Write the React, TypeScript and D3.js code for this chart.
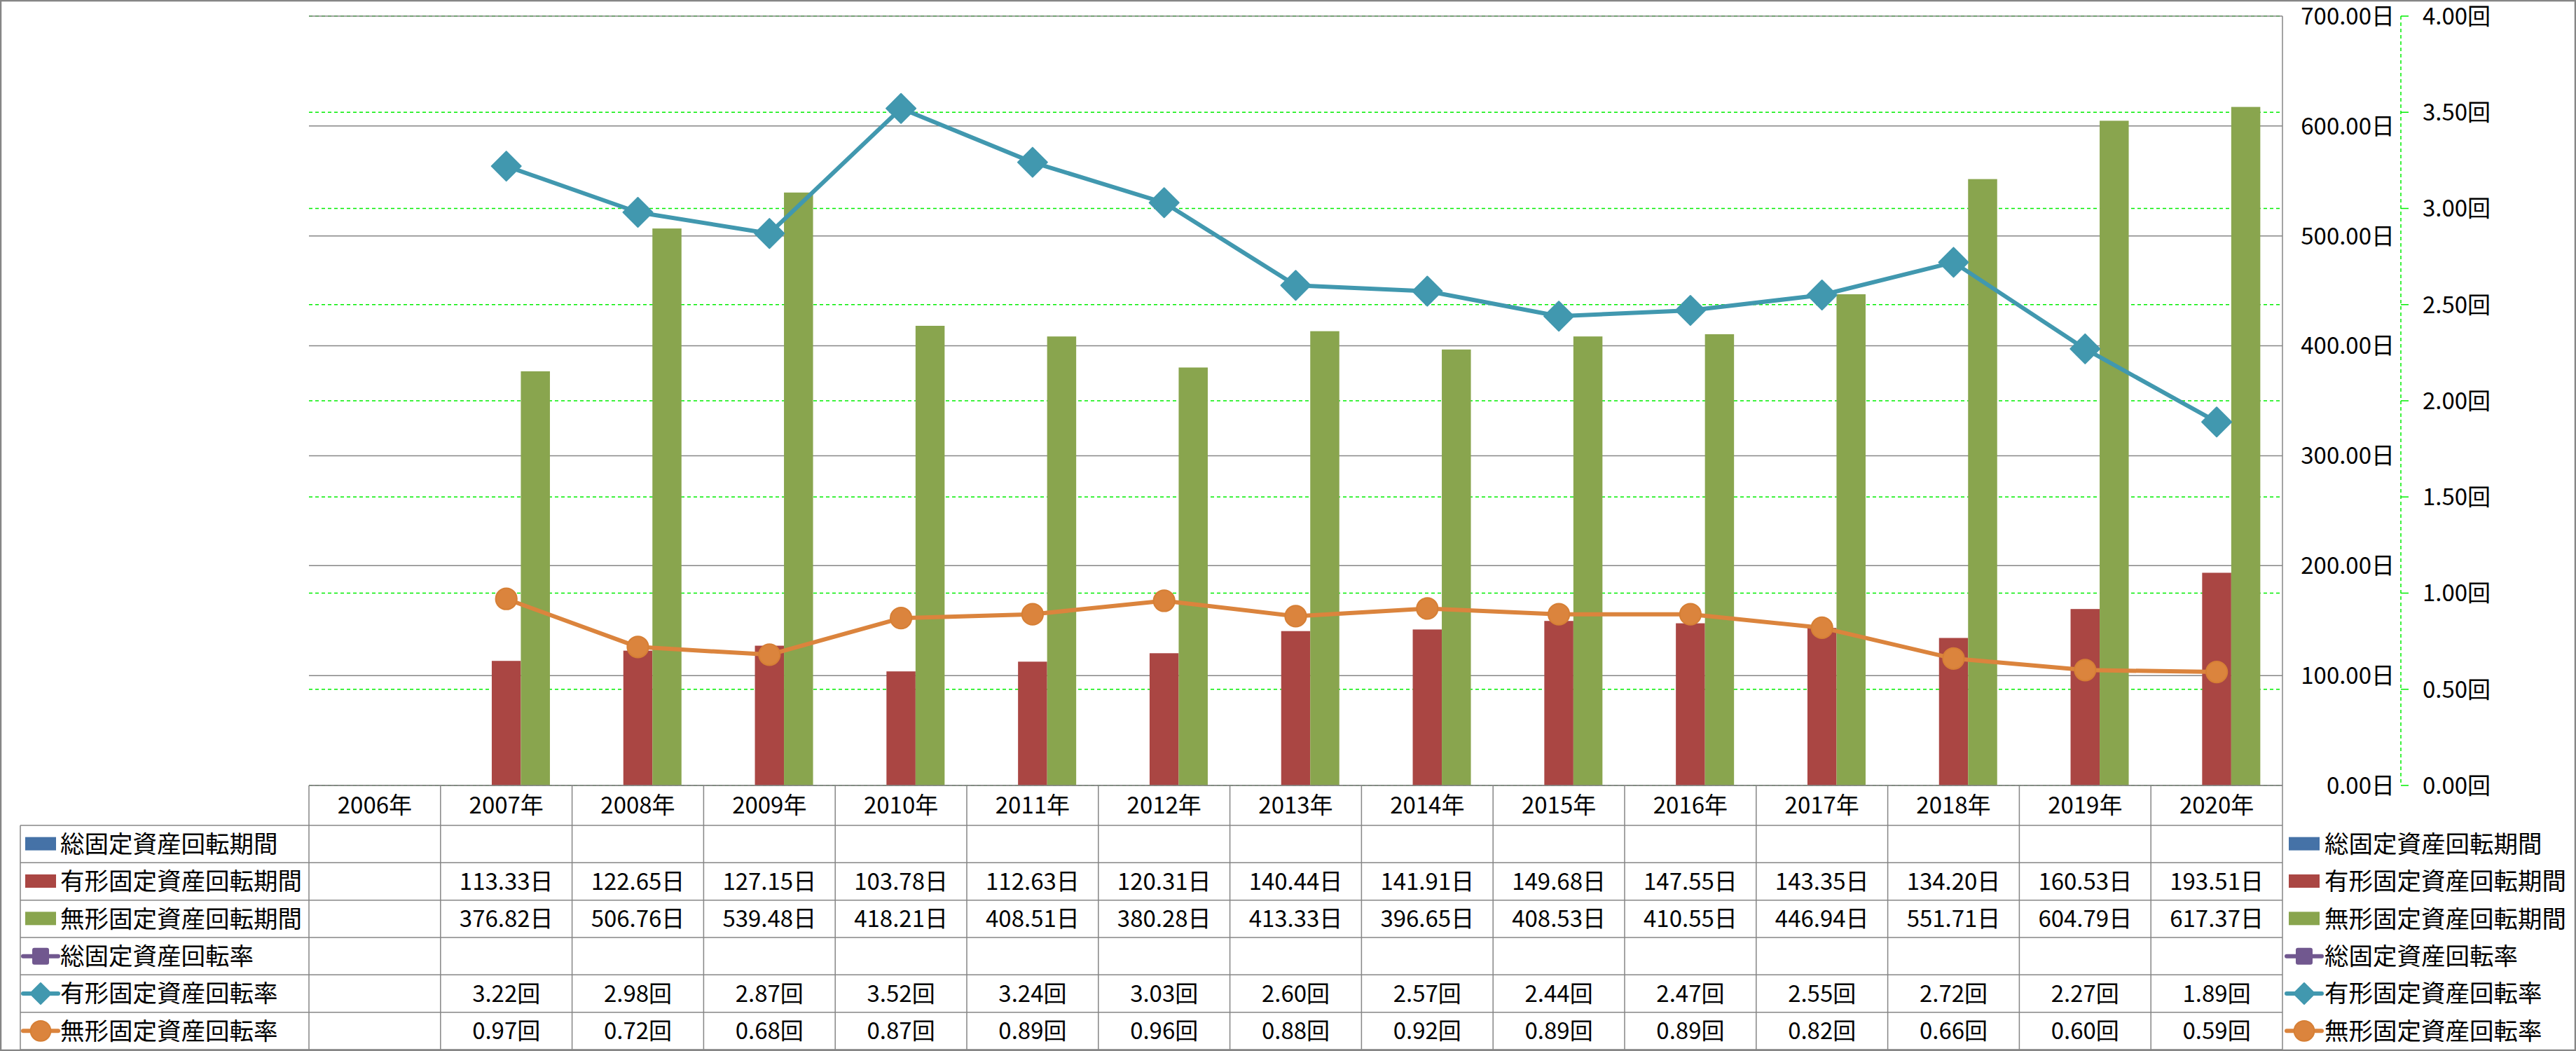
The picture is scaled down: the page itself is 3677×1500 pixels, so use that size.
import React from 'react';
import * as d3 from 'd3';

const years = ['2006年', '2007年', '2008年', '2009年', '2010年', '2011年', '2012年', '2013年', '2014年', '2015年', '2016年', '2017年', '2018年', '2019年', '2020年'];
const seriesNames = ['総固定資産回転期間', '有形固定資産回転期間', '無形固定資産回転期間', '総固定資産回転率', '有形固定資産回転率', '無形固定資産回転率'];
const totalPeriod: (number | null)[] = [null, null, null, null, null, null, null, null, null, null, null, null, null, null, null];
const tangiblePeriod: (number | null)[] = [null, 113.33, 122.65, 127.15, 103.78, 112.63, 120.31, 140.44, 141.91, 149.68, 147.55, 143.35, 134.20, 160.53, 193.51];
const intangiblePeriod: (number | null)[] = [null, 376.82, 506.76, 539.48, 418.21, 408.51, 380.28, 413.33, 396.65, 408.53, 410.55, 446.94, 551.71, 604.79, 617.37];
const totalRate: (number | null)[] = [null, null, null, null, null, null, null, null, null, null, null, null, null, null, null];
const tangibleRate: (number | null)[] = [null, 3.22, 2.98, 2.87, 3.52, 3.24, 3.03, 2.60, 2.57, 2.44, 2.47, 2.55, 2.72, 2.27, 1.89];
const intangibleRate: (number | null)[] = [null, 0.97, 0.72, 0.68, 0.87, 0.89, 0.96, 0.88, 0.92, 0.89, 0.89, 0.82, 0.66, 0.60, 0.59];
const dayTicks = [0, 100, 200, 300, 400, 500, 600, 700];
const rateTicks = [0, 0.5, 1, 1.5, 2, 2.5, 3, 3.5, 4];

const colors = ['#4572A7', '#AA4643', '#89A54E', '#71588F', '#4198AF', '#DB843D'];
const markers = ['rect', 'rect', 'rect', 'square', 'diamond', 'circle'];

const W = 3677, H = 1500;
const plotL = 441, plotR = 3258, plotT = 23, plotB = 1121;
const headerB = 1178, rowH = 53.33, tableL = 29;
const FONT = "'Noto Sans CJK JP', 'Noto Sans', sans-serif";
const FS = 33;
const GRID = '#868686';

function Marker({ kind, x, y, color, s }: { kind: string; x: number; y: number; color: string; s: number }) {
  if (kind === 'diamond') {
    const p = `M${x},${y - s} L${x + s},${y} L${x},${y + s} L${x - s},${y} Z`;
    return <path d={p} fill={color} stroke={color} strokeWidth={2} strokeLinejoin="round" />;
  }
  if (kind === 'circle') {
    return <circle cx={x} cy={y} r={s * 0.72} fill={color} stroke="#D67F35" strokeWidth={2} />;
  }
  return <rect x={x - s * 0.6} y={y - s * 0.6} width={s * 1.2} height={s * 1.2} rx={3} fill={color} />;
}

export default function App() {
  const x = d3.scaleBand<string>().domain(years).range([plotL, plotR]).paddingInner(0).paddingOuter(0);
  const bw = x.bandwidth();
  const gw = bw * 0.663;
  const xSub = d3.scaleBand<number>().domain([0, 1, 2]).range([(bw - gw) / 2, (bw + gw) / 2]);
  const yDays = d3.scaleLinear().domain([0, 700]).range([plotB, plotT]);
  const yRate = d3.scaleLinear().domain([0, 4]).range([plotB, plotT]);

  const barSeries = [totalPeriod, tangiblePeriod, intangiblePeriod];
  const lineSeries = [totalRate, tangibleRate, intangibleRate];

  const lineGen = d3.line<[number, number | null]>()
    .defined(d => d[1] != null)
    .x(d => d[0])
    .y(d => yRate(d[1] as number));

  const cellTexts: string[][] = [
    totalPeriod.map(v => (v == null ? '' : v.toFixed(2) + '日')),
    tangiblePeriod.map(v => (v == null ? '' : v.toFixed(2) + '日')),
    intangiblePeriod.map(v => (v == null ? '' : v.toFixed(2) + '日')),
    totalRate.map(v => (v == null ? '' : v.toFixed(2) + '回')),
    tangibleRate.map(v => (v == null ? '' : v.toFixed(2) + '回')),
    intangibleRate.map(v => (v == null ? '' : v.toFixed(2) + '回')),
  ];

  const rowTop = (i: number) => headerB + i * rowH;
  const rowMid = (i: number) => rowTop(i) + rowH / 2;

  const legendIcon = (i: number, cx0: number) => {
    const cy = rowMid(i);
    if (i < 3) {
      return <rect x={cx0} y={cy - 10} width={44} height={19} fill={colors[i]} />;
    }
    const mid = cx0 + 22;
    return (
      <g>
        <line x1={cx0 - 3} x2={cx0 + 47} y1={cy} y2={cy} stroke={colors[i]} strokeWidth={6} strokeLinecap="round" />
        <Marker kind={markers[i]} x={mid} y={cy} color={colors[i]} s={i === 4 ? 15 : 20} />
      </g>
    );
  };

  return (
    <svg width={W} height={H} style={{ position: 'absolute', left: 0, top: 0, background: '#fff' }} fontFamily={FONT}>
      <rect x={0} y={0} width={W} height={H} fill="#fff" />
      {/* rate gridlines (green dashed) */}
      {rateTicks.map(t => (
        <line key={'rg' + t} x1={plotL} x2={plotR} y1={yRate(t)} y2={yRate(t)} stroke="#00EE00" strokeWidth={1.5} strokeDasharray="5,4" />
      ))}
      {/* days gridlines (gray) */}
      {dayTicks.map(t => (
        <line key={'dg' + t} x1={plotL} x2={plotR} y1={yDays(t)} y2={yDays(t)} stroke={GRID} strokeWidth={1.5} />
      ))}
      {/* bars */}
      {barSeries.map((s, si) =>
        s.map((v, i) =>
          v == null ? null : (
            <rect key={`b${si}-${i}`} x={(x(years[i]) as number) + (xSub(si) as number)} y={yDays(v)} width={xSub.bandwidth()} height={plotB - yDays(v)} fill={colors[si + 0]} />
          )
        )
      )}
      {/* lines */}
      {lineSeries.map((s, si) => {
        const pts: [number, number | null][] = s.map((v, i) => [(x(years[i]) as number) + bw / 2, v]);
        return (
          <g key={'l' + si}>
            <path d={lineGen(pts) || ''} fill="none" stroke={colors[si + 3]} strokeWidth={6} strokeLinejoin="round" />
            {pts.map((p, i) => (p[1] == null ? null : (
              <Marker key={i} kind={markers[si + 3]} x={p[0]} y={yRate(p[1])} color={colors[si + 3]} s={si === 1 ? 21 : 21} />
            )))}
          </g>
        );
      })}
      {/* right days axis labels */}
      {dayTicks.map(t => (
        <text key={'dl' + t} x={3418} y={yDays(t)} dy="0.36em" textAnchor="end" fontSize={FS}>{t.toFixed(2) + '日'}</text>
      ))}
      {/* rate axis */}
      <line x1={3427} x2={3427} y1={plotT} y2={plotB} stroke="#00EE00" strokeWidth={1.5} strokeDasharray="5,4" />
      {rateTicks.map(t => (
        <g key={'rl' + t}>
          <line x1={3427} x2={3438} y1={yRate(t)} y2={yRate(t)} stroke="#00EE00" strokeWidth={1.5} />
          <text x={3458} y={yRate(t)} dy="0.36em" textAnchor="start" fontSize={FS}>{t.toFixed(2) + '回'}</text>
        </g>
      ))}
      {/* plot right border */}
      <line x1={plotR} x2={plotR} y1={plotT} y2={rowTop(6)} stroke={GRID} strokeWidth={1.5} />
      {/* data table */}
      <g stroke={GRID} strokeWidth={1.5}>
        <line x1={plotL} x2={plotR} y1={plotB} y2={plotB} />
        {[0, 1, 2, 3, 4, 5, 6].map(i => (
          <line key={'h' + i} x1={tableL} x2={plotR} y1={rowTop(i)} y2={rowTop(i)} />
        ))}
        <line x1={tableL} x2={tableL} y1={headerB} y2={rowTop(6)} />
        {years.map(y => (
          <line key={'v' + y} x1={x(y) as number} x2={x(y) as number} y1={plotB} y2={rowTop(6)} />
        ))}
      </g>
      {years.map(y => (
        <text key={'yh' + y} x={(x(y) as number) + bw / 2} y={(plotB + headerB) / 2} dy="0.36em" textAnchor="middle" fontSize={FS}>{y}</text>
      ))}
      {cellTexts.map((row, ri) =>
        row.map((t, ci) => (t === '' ? null : (
          <text key={`c${ri}-${ci}`} x={(x(years[ci]) as number) + bw / 2} y={rowMid(ri)} dy="0.36em" textAnchor="middle" fontSize={FS}>{t}</text>
        )))
      )}
      {seriesNames.map((n, i) => (
        <g key={'lg' + i}>
          {legendIcon(i, 36)}
          <text x={86} y={rowMid(i)} dy="0.36em" fontSize={34.5}>{n}</text>
        </g>
      ))}
      {/* right legend */}
      {seriesNames.map((n, i) => (
        <g key={'rg' + i}>
          {legendIcon(i, 3267)}
          <text x={3318} y={rowMid(i)} dy="0.36em" fontSize={34.5}>{n}</text>
        </g>
      ))}
      {/* outer border */}
      <rect x={1} y={1} width={W - 2} height={H - 2} fill="none" stroke={GRID} strokeWidth={2.5} />
    </svg>
  );
}
